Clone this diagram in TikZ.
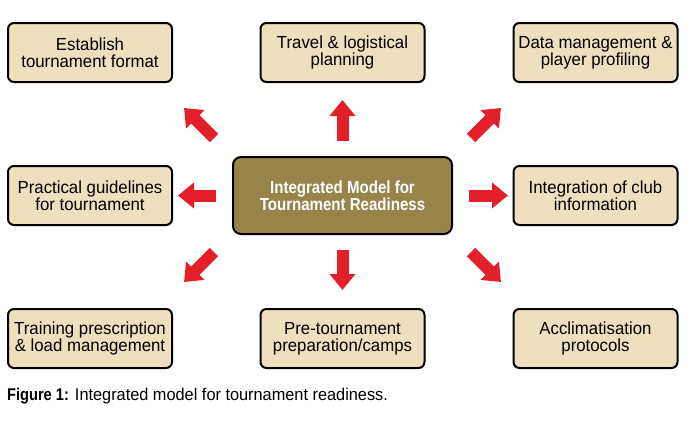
\documentclass[tikz,border=0pt]{standalone}
\usepackage{fontspec}
\setmainfont{Liberation Sans}[FakeStretch=0.96]
\newfontfamily\boldcond{Liberation Sans Bold}[FakeStretch=0.86]
\usetikzlibrary{arrows.meta}
\definecolor{boxfill}{HTML}{EEDFBD}
\definecolor{centerfill}{HTML}{968449}
\definecolor{arrowred}{HTML}{E3202A}
\tikzset{
  item/.style={draw=black, line width=2pt, rounded corners=6pt, fill=boxfill,
    minimum width=164pt, minimum height=59pt, align=center, inner sep=0pt,
    font=\fontsize{17.5pt}{17pt}\selectfont},
  hub/.style={draw=black, line width=2pt, rounded corners=8pt, fill=centerfill,
    minimum width=219pt, minimum height=77pt, align=center, inner sep=0pt,
    text=white, font=\boldcond\fontsize{17.5pt}{16.5pt}\selectfont},
  blockarrow/.style={draw=arrowred, line width=12pt, line cap=butt,
    -{Triangle[length=16pt,width=25pt,fill=arrowred]}},
}
\begin{document}
\begin{tikzpicture}[x=1pt,y=-1pt]
\useasboundingbox (0,0) rectangle (691,423);
\node[item] (tl) at (90,52.5) {Establish\\tournament format};
\node[item] (tm) at (342.5,52.5) {Travel \& logistical\\planning};
\node[item] (tr) at (595.5,52.5) {Data management \&\\player profiling};
\node[item] (ml) at (90,195.5) {Practical guidelines\\for tournament};
\node[hub] (c) at (342.5,195.5) {Integrated Model for\\Tournament Readiness};
\node[item] (mr) at (595.5,195.5) {Integration of club\\information};
\node[item] (bl) at (90,338.5) {Training prescription\\\& load management};
\node[item] (bm) at (342.5,338.5) {Pre-tournament\\preparation/camps};
\node[item] (br) at (595.5,338.5) {Acclimatisation\\protocols};
% arrow tails and tips
\coordinate (tlA) at (214,138); \coordinate (tlB) at (184,108);
\coordinate (tmA) at (342.5,141); \coordinate (tmB) at (342.5,100);
\coordinate (trA) at (471,138); \coordinate (trB) at (501,108);
\coordinate (mlA) at (216,195.5); \coordinate (mlB) at (178,195.5);
\coordinate (mrA) at (469,195.5); \coordinate (mrB) at (508,195.5);
\coordinate (blA) at (214,252); \coordinate (blB) at (184,282);
\coordinate (bmA) at (342.5,250); \coordinate (bmB) at (342.5,290);
\coordinate (brA) at (471,252); \coordinate (brB) at (501,282);
\foreach \n in {tl,tm,tr,ml,mr,bl,bm,br}{
  \draw[blockarrow] (\n A) -- (\n B);
}
\node[anchor=west, inner sep=0pt, font=\fontsize{17pt}{17pt}\selectfont] (cap) at (7,396)
  {{\boldcond Figure 1:} Integrated model for tournament readiness.};
\end{tikzpicture}
\end{document}
